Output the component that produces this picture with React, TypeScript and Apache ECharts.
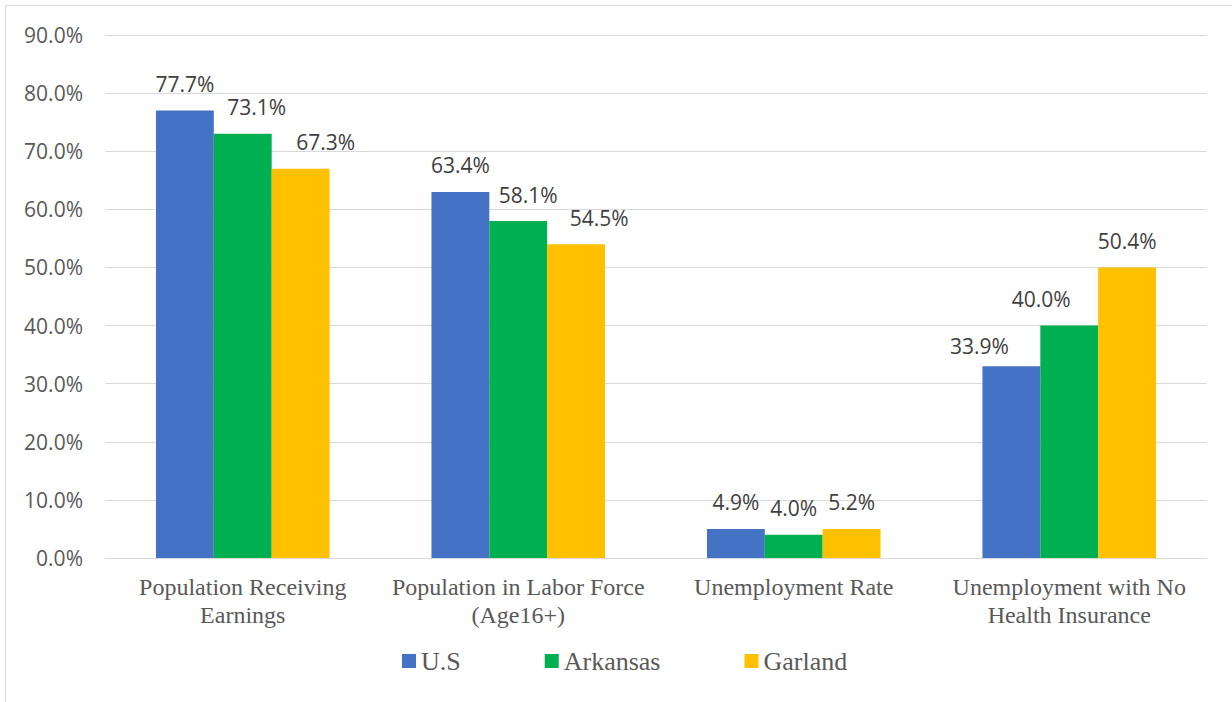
import React, { useEffect, useRef } from "react";
import * as echarts from "echarts";

const categories = [
  "Population Receiving\nEarnings",
  "Population in Labor Force\n(Age16+)",
  "Unemployment Rate",
  "Unemployment with No\nHealth Insurance",
];
const seriesNames = ["U.S", "Arkansas", "Garland"];
const usValues = [77, 63, 5, 33];
const arkansasValues = [73, 58, 4, 40];
const garlandValues = [67, 54, 5, 50];
const usLabels = ["77.7%", "63.4%", "4.9%", "33.9%"];
const arkansasLabels = ["73.1%", "58.1%", "4.0%", "40.0%"];
const garlandLabels = ["67.3%", "54.5%", "5.2%", "50.4%"];
const colors = ["#4472C4", "#00B050", "#FFC000"];

// manual label nudges (pixels) as placed in the original chart
const usLabelNudge = [[0, 0], [0, 0], [0, 0], [-32, 6]];
const arkansasLabelNudge = [[14, 0], [10, 1], [0, 0], [-28, 0]];
const garlandLabelNudge = [[25, 0], [23, 0], [0, 0], [0, 0]];

export default function App() {
  const ref = useRef<HTMLDivElement>(null);
  useEffect(() => {
    if (!ref.current) return;
    const chart = echarts.init(ref.current, null, { renderer: "svg" });
    const valueSets = [usValues, arkansasValues, garlandValues];
    const labelSets = [usLabels, arkansasLabels, garlandLabels];
    const nudgeSets = [usLabelNudge, arkansasLabelNudge, garlandLabelNudge];
    const legendText = {
      fontFamily: "'Liberation Serif', serif",
      fontSize: 26,
      lineHeight: 30,
      color: "#595959",
    };
    chart.setOption({
      animation: false,
      backgroundColor: "#ffffff",
      graphic: [
        {
          type: "rect",
          shape: { x: 5.5, y: 5.5, width: 1240, height: 710 },
          style: { fill: "none", stroke: "#d9d9d9", lineWidth: 1 },
          silent: true,
        },
      ],
      grid: { left: 105, right: 25, top: 35, bottom: 144, containLabel: false },
      legend: {
        data: seriesNames.map((n) => ({ name: n, textStyle: legendText })),
        left: 402,
        top: 646,
        padding: 0,
        itemGap: 84,
        itemWidth: 14,
        itemHeight: 14,
        icon: "rect",
        textStyle: legendText,
      },
      xAxis: {
        type: "category",
        data: categories,
        axisLine: { show: true, lineStyle: { color: "#d9d9d9", width: 1 } },
        axisTick: { show: false },
        axisLabel: {
          interval: 0,
          margin: 15,
          fontFamily: "'Liberation Serif', serif",
          fontSize: 24,
          lineHeight: 28,
          color: "#595959",
          align: "center",
        },
      },
      yAxis: {
        type: "value",
        min: 0,
        max: 90,
        interval: 10,
        axisLine: { show: false },
        axisTick: { show: false },
        splitLine: { lineStyle: { color: "#d9d9d9", width: 1 } },
        axisLabel: {
          margin: 22,
          fontFamily: "Open Sans",
          fontSize: 21,
          color: "#595959",
          formatter: (v: number) => v.toFixed(1) + "%",
        },
      },
      series: seriesNames.map((name, si) => ({
        name,
        type: "bar",
        barGap: "0%",
        barCategoryGap: "37%",
        itemStyle: { color: colors[si] },
        data: valueSets[si].map((v, i) => ({
          value: v,
          label: { offset: nudgeSets[si][i] },
        })),
        label: {
          show: true,
          position: "top",
          distance: 16,
          fontFamily: "Open Sans",
          fontSize: 21,
          color: "#404040",
          formatter: (p: any) => labelSets[si][p.dataIndex],
        },
      })),
    });
    return () => chart.dispose();
  }, []);
  return (
    <div
      ref={ref}
      style={{ position: "absolute", left: 0, top: 0, width: 1232, height: 702 }}
    />
  );
}
